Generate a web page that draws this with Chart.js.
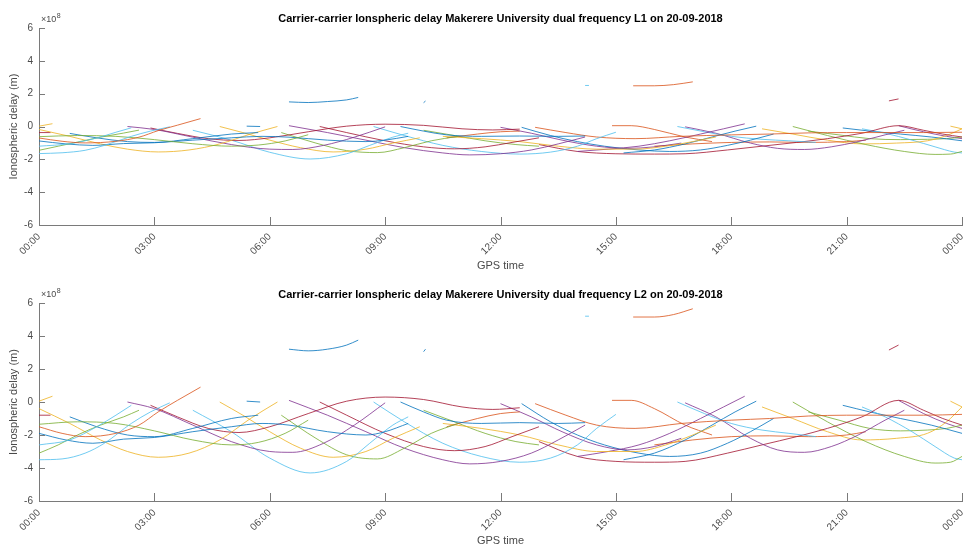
<!DOCTYPE html>
<html>
<head>
<meta charset="utf-8">
<script src="https://cdn.jsdelivr.net/npm/chart.js@4"></script>
<style>
  html, body { margin: 0; padding: 0; background: #fff; }
  .panel { position: absolute; left: 0; width: 966px; height: 274px; }
  #panelL1 { top: 0; }
  #panelL2 { top: 274px; }
</style>
</head>
<body>
<div class="panel" id="panelL1"><canvas id="chartL1"></canvas></div>
<div class="panel" id="panelL2"><canvas id="chartL2"></canvas></div>
<script>
// GPS time axis (hours of the day) and delay axis (units of 1e8 m)
const hourTicks = [0, 3, 6, 9, 12, 15, 18, 21, 24];
const timeLabels = ['00:00', '03:00', '06:00', '09:00', '12:00', '15:00', '18:00', '21:00', '00:00'];
const delayTicks = [-6, -4, -2, 0, 2, 4, 6];

// Satellite pass colour slot (MATLAB default line order), one entry per arc
const arcColourSlot = [
  2, 1, 5, 5, 4, 4, 0, 0, 2, 6,
  3, 6, 5, 2, 0, 0, 4, 3, 6, 5,
  0, 1, 2, 4, 0, 3, 1, 0, 3, 0,
  1, 5, 3, 6, 1, 4, 2, 5, 0, 4,
  2, 1, 6, 5, 3
];

// L1 carrier-carrier delay arcs: [GPS hour, delay x1e8 m]
const arcsL1 = [
  [[0,0.02],[0.35,0.17]],
  [[0,-0.7],[0.6,-0.9],[1.2,-1.0],[2.0,-0.9],[2.6,-0.65],[3.1,-0.25],[3.6,0.08],[4.2,0.48]],
  [[0,-1.65],[0.6,-1.6],[1.2,-1.45],[1.7,-1.15],[2.4,-0.6],[2.9,-0.28],[3.4,-0.02]],
  [[0,-1.2],[0.8,-1.05],[1.5,-0.7],[2.0,-0.35],[2.4,-0.08]],
  [[0,-1.45],[0.5,-1.2],[1.0,-0.95],[1.6,-0.65],[2.2,-0.4],[2.6,-0.22]],
  [[0,-0.62],[1.0,-0.55],[2.0,-0.6],[3.0,-0.8],[4.0,-1.05],[5.0,-1.2],[5.7,-1.13],[6.4,-0.88],[7.0,-0.5]],
  [[0,-0.88],[0.7,-1.06],[1.4,-1.15],[2.2,-1.04],[3.0,-0.99],[4.0,-0.83],[5.0,-0.69],[5.8,-0.6],[6.5,-0.65],[7.5,-0.83],[8.5,-0.92],[9.0,-0.83],[9.6,-0.6]],
  [[0.8,-0.42],[1.5,-0.69],[2.3,-0.92],[3.0,-0.97],[4.0,-0.74],[5.0,-0.46],[5.7,-0.37]],
  [[0,-0.18],[0.8,-0.6],[1.6,-1.06],[2.3,-1.38],[3.1,-1.55],[3.9,-1.43],[4.7,-1.06],[5.5,-0.46],[6.2,0.0]],
  [[0,-0.37],[0.3,-0.37]],
  [[2.3,0.0],[3.0,-0.18],[4.0,-0.65],[5.0,-1.1],[6.0,-1.38],[6.6,-1.4],[7.4,-1.15],[8.2,-0.65],[9.0,-0.02]],
  [[2.9,-0.09],[3.6,-0.42],[4.4,-0.74],[5.2,-0.85],[6.0,-0.69],[7.0,-0.32],[8.0,0.02],[9.0,0.14],[10.0,0.07],[11.0,-0.14],[11.8,-0.21],[12.5,-0.16]],
  [[4.0,-0.23],[5.0,-0.83],[6.0,-1.57],[7.05,-1.98],[8.0,-1.66],[8.6,-1.15],[9.2,-0.65],[9.6,-0.41]],
  [[4.7,0.0],[5.3,-0.37],[6.0,-0.83],[6.8,-1.29],[7.65,-1.55],[8.5,-1.38],[9.2,-1.01],[9.9,-0.69]],
  [[5.4,0.02],[5.75,0.0]],
  [[6.5,1.5],[7.0,1.46],[7.5,1.52],[8.0,1.62],[8.3,1.77]],
  [[6.3,-0.37],[7.2,-1.01],[8.0,-1.47],[8.8,-1.59],[9.5,-1.29],[10.2,-0.87],[10.9,-0.6]],
  [[6.5,0.05],[7.5,-0.37],[8.5,-0.83],[9.5,-1.29],[10.5,-1.61],[11.2,-1.73],[12.0,-1.66],[12.8,-1.43],[13.5,-1.06],[14.2,-0.64]],
  [[7.3,0.0],[8.0,-0.37],[9.0,-0.87],[10.0,-1.24],[10.8,-1.36],[11.6,-1.24],[12.3,-0.97],[13.0,-0.69]],
  [[8.7,0.0],[9.5,-0.55],[10.5,-1.15],[11.5,-1.52],[12.5,-1.68],[13.3,-1.56],[14.0,-1.2],[14.5,-0.74],[15.0,-0.35]],
  [[9.4,0.0],[10.0,-0.28],[10.6,-0.51],[11.5,-0.6],[12.5,-0.58],[13.5,-0.6],[14.2,-0.58]],
  [[10.6,-0.69],[11.4,-0.46],[12.0,-0.32],[12.5,-0.28]],
  [[10.5,-0.6],[11.5,-0.74],[12.5,-0.92],[13.5,-1.2],[14.5,-1.38],[15.5,-1.38],[16.3,-1.2],[17.0,-0.92],[17.6,-0.64]],
  [[10.0,-0.23],[10.8,-0.55],[11.6,-0.87],[12.4,-1.1],[13.0,-1.2]],
  [[10.0,1.45],[10.05,1.55]],
  [[12.0,-0.05],[12.8,-0.41],[13.6,-0.83],[14.5,-1.2],[15.3,-1.33],[16.0,-1.24],[16.7,-1.01]],
  [[12.9,-0.05],[13.7,-0.37],[14.5,-0.64],[15.5,-0.74],[16.7,-0.6],[18.0,-0.51],[19.0,-0.46],[20.0,-0.39],[21.0,-0.37],[22.0,-0.37],[23.0,-0.37],[24.0,-0.35]],
  [[12.55,-0.05],[13.3,-0.55],[14.0,-0.92],[14.7,-1.2],[15.6,-1.43],[16.4,-1.52],[17.2,-1.43],[17.9,-1.15],[18.5,-0.83],[19.1,-0.46]],
  [[14.0,-1.52],[14.8,-1.38],[15.6,-1.2],[16.4,-0.87],[17.2,-0.46],[17.8,-0.14],[18.35,0.16]],
  [[15.2,-1.61],[16.0,-1.43],[16.8,-1.06],[17.5,-0.64],[18.1,-0.28],[18.65,0.02]],
  [[14.9,0.05],[15.4,0.05],[16.0,-0.18],[16.8,-0.64],[17.5,-0.92]],
  [[16.6,0.0],[17.3,-0.32],[18.0,-0.6],[18.8,-0.78],[19.5,-0.87],[20.2,-0.97]],
  [[16.8,-0.02],[17.6,-0.41],[18.5,-1.01],[19.2,-1.33],[19.9,-1.4],[20.6,-1.24],[21.3,-0.92],[22.0,-0.51],[22.5,-0.23]],
  [[13.0,-1.1],[14.0,-1.52],[15.0,-1.66],[16.0,-1.68],[16.8,-1.66],[17.9,-1.43],[18.8,-1.2],[19.7,-0.97],[20.5,-0.74],[21.4,-0.41],[22.35,0.05],[23.0,-0.23],[23.5,-0.46],[24.0,-0.64]],
  [[16.0,-1.2],[17.0,-1.06],[18.0,-0.97],[19.0,-0.94],[20.0,-0.97],[21.0,-0.92],[21.5,-0.83]],
  [[19.6,0.0],[20.5,-0.55],[21.5,-1.1],[22.5,-1.52],[23.3,-1.7],[23.7,-1.68],[24.0,-1.52]],
  [[18.8,-0.14],[19.6,-0.46],[20.5,-0.83],[21.4,-1.06],[22.3,-1.01],[23.1,-0.87],[23.6,-0.55],[24.0,-0.14]],
  [[21.4,-0.14],[22.0,-0.41],[22.7,-0.83],[23.3,-1.24],[23.8,-1.56],[24.0,-1.61]],
  [[20.9,-0.09],[21.6,-0.28],[22.4,-0.46],[23.2,-0.64],[24.0,-0.87]],
  [[20.0,-0.28],[20.8,-0.51],[21.6,-0.74],[22.4,-0.8],[23.1,-0.78],[23.6,-0.74],[24.0,-0.64]],
  [[23.7,0.02],[24.0,-0.14]],
  [[15.45,2.48],[16.0,2.48],[16.5,2.55],[17.0,2.72]],
  [[22.1,1.56],[22.35,1.68]],
  [[14.2,2.5],[14.3,2.5]],
  [[22.35,0.05],[23.0,-0.32],[23.6,-0.6],[24.0,-0.74]]
];

// L2 carrier-carrier delay arcs: [GPS hour, delay x1e8 m]
const arcsL2 = [
  [[0,0.05],[0.35,0.35]],
  [[0,-1.5],[0.6,-1.9],[1.2,-2.1],[2.0,-1.9],[2.6,-1.4],[3.1,-0.6],[3.6,0.1],[4.2,0.9]],
  [[0,-3.5],[0.6,-3.45],[1.2,-3.1],[1.7,-2.5],[2.4,-1.3],[2.9,-0.6],[3.4,-0.05]],
  [[0,-2.6],[0.8,-2.3],[1.5,-1.5],[2.0,-0.8],[2.4,-0.2]],
  [[0,-3.1],[0.5,-2.6],[1.0,-2.0],[1.6,-1.4],[2.2,-0.9],[2.6,-0.5]],
  [[0,-1.35],[1.0,-1.2],[2.0,-1.3],[3.0,-1.75],[4.0,-2.3],[5.0,-2.6],[5.7,-2.45],[6.4,-1.9],[7.0,-1.1]],
  [[0,-1.9],[0.7,-2.3],[1.4,-2.5],[2.2,-2.25],[3.0,-2.15],[4.0,-1.8],[5.0,-1.5],[5.8,-1.3],[6.5,-1.4],[7.5,-1.8],[8.5,-2.0],[9.0,-1.8],[9.6,-1.3]],
  [[0.8,-0.9],[1.5,-1.5],[2.3,-2.0],[3.0,-2.1],[4.0,-1.6],[5.0,-1.0],[5.7,-0.8]],
  [[0,-0.4],[0.8,-1.3],[1.6,-2.3],[2.3,-3.0],[3.1,-3.35],[3.9,-3.1],[4.7,-2.3],[5.5,-1.0],[6.2,0.0]],
  [[0,-0.8],[0.3,-0.8]],
  [[2.3,0.0],[3.0,-0.4],[4.0,-1.4],[5.0,-2.4],[6.0,-3.0],[6.6,-3.05],[7.4,-2.5],[8.2,-1.4],[9.0,-0.05]],
  [[2.9,-0.2],[3.6,-0.9],[4.4,-1.6],[5.2,-1.85],[6.0,-1.5],[7.0,-0.7],[8.0,0.05],[9.0,0.3],[10.0,0.15],[11.0,-0.3],[11.8,-0.45],[12.5,-0.35]],
  [[4.0,-0.5],[5.0,-1.8],[6.0,-3.4],[7.05,-4.3],[8.0,-3.6],[8.6,-2.5],[9.2,-1.4],[9.6,-0.9]],
  [[4.7,0.0],[5.3,-0.8],[6.0,-1.8],[6.8,-2.8],[7.65,-3.35],[8.5,-3.0],[9.2,-2.2],[9.9,-1.5]],
  [[5.4,0.05],[5.75,0.0]],
  [[6.5,3.2],[7.0,3.1],[7.5,3.2],[8.0,3.45],[8.3,3.75]],
  [[6.3,-0.8],[7.2,-2.2],[8.0,-3.2],[8.8,-3.45],[9.5,-2.8],[10.2,-1.9],[10.9,-1.3]],
  [[6.5,0.1],[7.5,-0.8],[8.5,-1.8],[9.5,-2.8],[10.5,-3.5],[11.2,-3.75],[12.0,-3.6],[12.8,-3.1],[13.5,-2.3],[14.2,-1.4]],
  [[7.3,0.0],[8.0,-0.8],[9.0,-1.9],[10.0,-2.7],[10.8,-2.95],[11.6,-2.7],[12.3,-2.1],[13.0,-1.5]],
  [[8.7,0.0],[9.5,-1.2],[10.5,-2.5],[11.5,-3.3],[12.5,-3.65],[13.3,-3.4],[14.0,-2.6],[14.5,-1.6],[15.0,-0.75]],
  [[9.4,0.0],[10.0,-0.6],[10.6,-1.1],[11.5,-1.3],[12.5,-1.25],[13.5,-1.3],[14.2,-1.25]],
  [[10.6,-1.5],[11.4,-1.0],[12.0,-0.7],[12.5,-0.6]],
  [[10.5,-1.3],[11.5,-1.6],[12.5,-2.0],[13.5,-2.6],[14.5,-3.0],[15.5,-3.0],[16.3,-2.6],[17.0,-2.0],[17.6,-1.4]],
  [[10.0,-0.5],[10.8,-1.2],[11.6,-1.9],[12.4,-2.4],[13.0,-2.6]],
  [[10.0,3.05],[10.05,3.2]],
  [[12.0,-0.1],[12.8,-0.9],[13.6,-1.8],[14.5,-2.6],[15.3,-2.9],[16.0,-2.7],[16.7,-2.2]],
  [[12.9,-0.1],[13.7,-0.8],[14.5,-1.4],[15.5,-1.6],[16.7,-1.3],[18.0,-1.1],[19.0,-1.0],[20.0,-0.85],[21.0,-0.8],[22.0,-0.8],[23.0,-0.8],[24.0,-0.75]],
  [[12.55,-0.1],[13.3,-1.2],[14.0,-2.0],[14.7,-2.6],[15.6,-3.1],[16.4,-3.3],[17.2,-3.1],[17.9,-2.5],[18.5,-1.8],[19.1,-1.0]],
  [[14.0,-3.3],[14.8,-3.0],[15.6,-2.6],[16.4,-1.9],[17.2,-1.0],[17.8,-0.3],[18.35,0.35]],
  [[15.2,-3.5],[16.0,-3.1],[16.8,-2.3],[17.5,-1.4],[18.1,-0.6],[18.65,0.05]],
  [[14.9,0.1],[15.4,0.1],[16.0,-0.4],[16.8,-1.4],[17.5,-2.0]],
  [[16.6,0.0],[17.3,-0.7],[18.0,-1.3],[18.8,-1.7],[19.5,-1.9],[20.2,-2.1]],
  [[16.8,-0.05],[17.6,-0.9],[18.5,-2.2],[19.2,-2.9],[19.9,-3.05],[20.6,-2.7],[21.3,-2.0],[22.0,-1.1],[22.5,-0.5]],
  [[13.0,-2.4],[14.0,-3.3],[15.0,-3.6],[16.0,-3.65],[16.8,-3.6],[17.9,-3.1],[18.8,-2.6],[19.7,-2.1],[20.5,-1.6],[21.4,-0.9],[22.35,0.1],[23.0,-0.5],[23.5,-1.0],[24.0,-1.4]],
  [[16.0,-2.6],[17.0,-2.3],[18.0,-2.1],[19.0,-2.05],[20.0,-2.1],[21.0,-2.0],[21.5,-1.8]],
  [[19.6,0.0],[20.5,-1.2],[21.5,-2.4],[22.5,-3.3],[23.3,-3.7],[23.7,-3.65],[24.0,-3.3]],
  [[18.8,-0.3],[19.6,-1.0],[20.5,-1.8],[21.4,-2.3],[22.3,-2.2],[23.1,-1.9],[23.6,-1.2],[24.0,-0.3]],
  [[21.4,-0.3],[22.0,-0.9],[22.7,-1.8],[23.3,-2.7],[23.8,-3.4],[24.0,-3.5]],
  [[20.9,-0.2],[21.6,-0.6],[22.4,-1.0],[23.2,-1.4],[24.0,-1.9]],
  [[20.0,-0.6],[20.8,-1.1],[21.6,-1.6],[22.4,-1.75],[23.1,-1.7],[23.6,-1.6],[24.0,-1.4]],
  [[23.7,0.05],[24.0,-0.3]],
  [[15.45,5.15],[16.0,5.15],[16.5,5.3],[17.0,5.65]],
  [[22.1,3.15],[22.35,3.45]],
  [[14.2,5.2],[14.3,5.2]],
  [[22.35,0.1],[23.0,-0.7],[23.6,-1.3],[24.0,-1.6]]
];

// MATLAB default colour order, drawn slightly translucent like thin 0.5 pt lines
const lineColours = ['rgba(0,114,189,0.8)', 'rgba(217,83,25,0.8)', 'rgba(237,177,32,0.8)',
                     'rgba(126,47,142,0.8)', 'rgba(119,172,48,0.8)', 'rgba(77,190,238,0.8)',
                     'rgba(162,20,47,0.8)'];
const axisColour = '#7a7a7a';
const labelColour = '#4a4a4a';
const fontFamily = '"Liberation Sans", Arial, Helvetica, sans-serif';

// Inward tick marks, bold title and the x10^8 exponent label
const panelDecor = {
  id: 'panelDecor',
  afterDraw(chart, args, opts) {
    const { ctx, chartArea: a, scales: { x, y } } = chart;
    ctx.save();
    ctx.strokeStyle = axisColour;
    ctx.lineWidth = 1;
    ctx.beginPath();
    hourTicks.forEach(h => {
      const px = Math.round(x.getPixelForValue(h)) + 0.5;
      ctx.moveTo(px, a.bottom);
      ctx.lineTo(px, a.bottom - 8);
    });
    delayTicks.forEach(v => {
      const py = Math.round(y.getPixelForValue(v)) + 0.5;
      ctx.moveTo(a.left, py);
      ctx.lineTo(a.left + 6, py);
    });
    ctx.stroke();

    ctx.fillStyle = '#000';
    ctx.font = 'bold 11px ' + fontFamily;
    ctx.textAlign = 'center';
    ctx.textBaseline = 'middle';
    ctx.fillText(opts.title, (a.left + a.right) / 2, opts.titleY);

    ctx.fillStyle = labelColour;
    ctx.textAlign = 'left';
    ctx.font = '9px ' + fontFamily;
    ctx.fillText('\u00d710', a.left + 2, a.top - 8);
    const w = ctx.measureText('\u00d710').width;
    ctx.font = '7px ' + fontFamily;
    ctx.fillText('8', a.left + 2 + w + 0.5, a.top - 12);
    ctx.restore();
  }
};

function buildPanel(canvasId, arcs, title, titleY, padTop, xHeight, xTitlePad) {
  const datasets = arcs.map((arc, i) => ({
    data: arc.map(([h, v]) => ({ x: h, y: v })),
    borderColor: lineColours[arcColourSlot[i]],
    borderWidth: 1,
    pointRadius: 0,
    showLine: true,
    fill: false,
    cubicInterpolationMode: 'monotone'
  }));
  return new Chart(document.getElementById(canvasId), {
    type: 'scatter',
    data: { datasets },
    plugins: [panelDecor],
    options: {
      responsive: true,
      maintainAspectRatio: false,
      devicePixelRatio: 1,
      animation: false,
      layout: { padding: { top: padTop, right: 4, left: 0, bottom: 0 } },
      plugins: {
        legend: { display: false },
        tooltip: { enabled: false },
        panelDecor: { title, titleY }
      },
      scales: {
        x: {
          type: 'linear',
          min: 0,
          max: 24,
          afterBuildTicks(scale) { scale.ticks = hourTicks.map(v => ({ value: v })); },
          afterFit(scale) { scale.height = xHeight; scale.paddingLeft = 0; scale.paddingRight = 0; },
          ticks: {
            autoSkip: false,
            minRotation: 45,
            maxRotation: 45,
            padding: 6,
            color: labelColour,
            font: { family: fontFamily, size: 10 },
            callback: (v) => timeLabels[hourTicks.indexOf(v)]
          },
          grid: { display: false, drawTicks: false },
          border: { display: true, color: axisColour, width: 1 },
          title: {
            display: true,
            text: 'GPS time',
            color: labelColour,
            font: { family: fontFamily, size: 11 },
            padding: { top: 0, bottom: xTitlePad }
          }
        },
        y: {
          type: 'linear',
          min: -6,
          max: 6,
          afterBuildTicks(scale) { scale.ticks = delayTicks.map(v => ({ value: v })); },
          afterFit(scale) { scale.width = 39; scale.paddingTop = 0; scale.paddingBottom = 0; },
          ticks: {
            padding: 6,
            color: labelColour,
            font: { family: fontFamily, size: 10 },
            callback: (v) => String(v)
          },
          grid: { display: false, drawTicks: false },
          border: { display: true, color: axisColour, width: 1 },
          title: {
            display: true,
            text: 'Ionospheric delay (m)',
            color: labelColour,
            font: { family: fontFamily, size: 11 },
            padding: { top: 7, bottom: 0 }
          }
        }
      }
    }
  });
}

buildPanel('chartL1', arcsL1,
  'Carrier-carrier Ionspheric delay Makerere University dual frequency L1 on 20-09-2018',
  19, 28, 49, 1);
buildPanel('chartL2', arcsL2,
  'Carrier-carrier Ionspheric delay Makerere University dual frequency L2 on 20-09-2018',
  21, 29, 47, 0);
</script>
</body>
</html>
